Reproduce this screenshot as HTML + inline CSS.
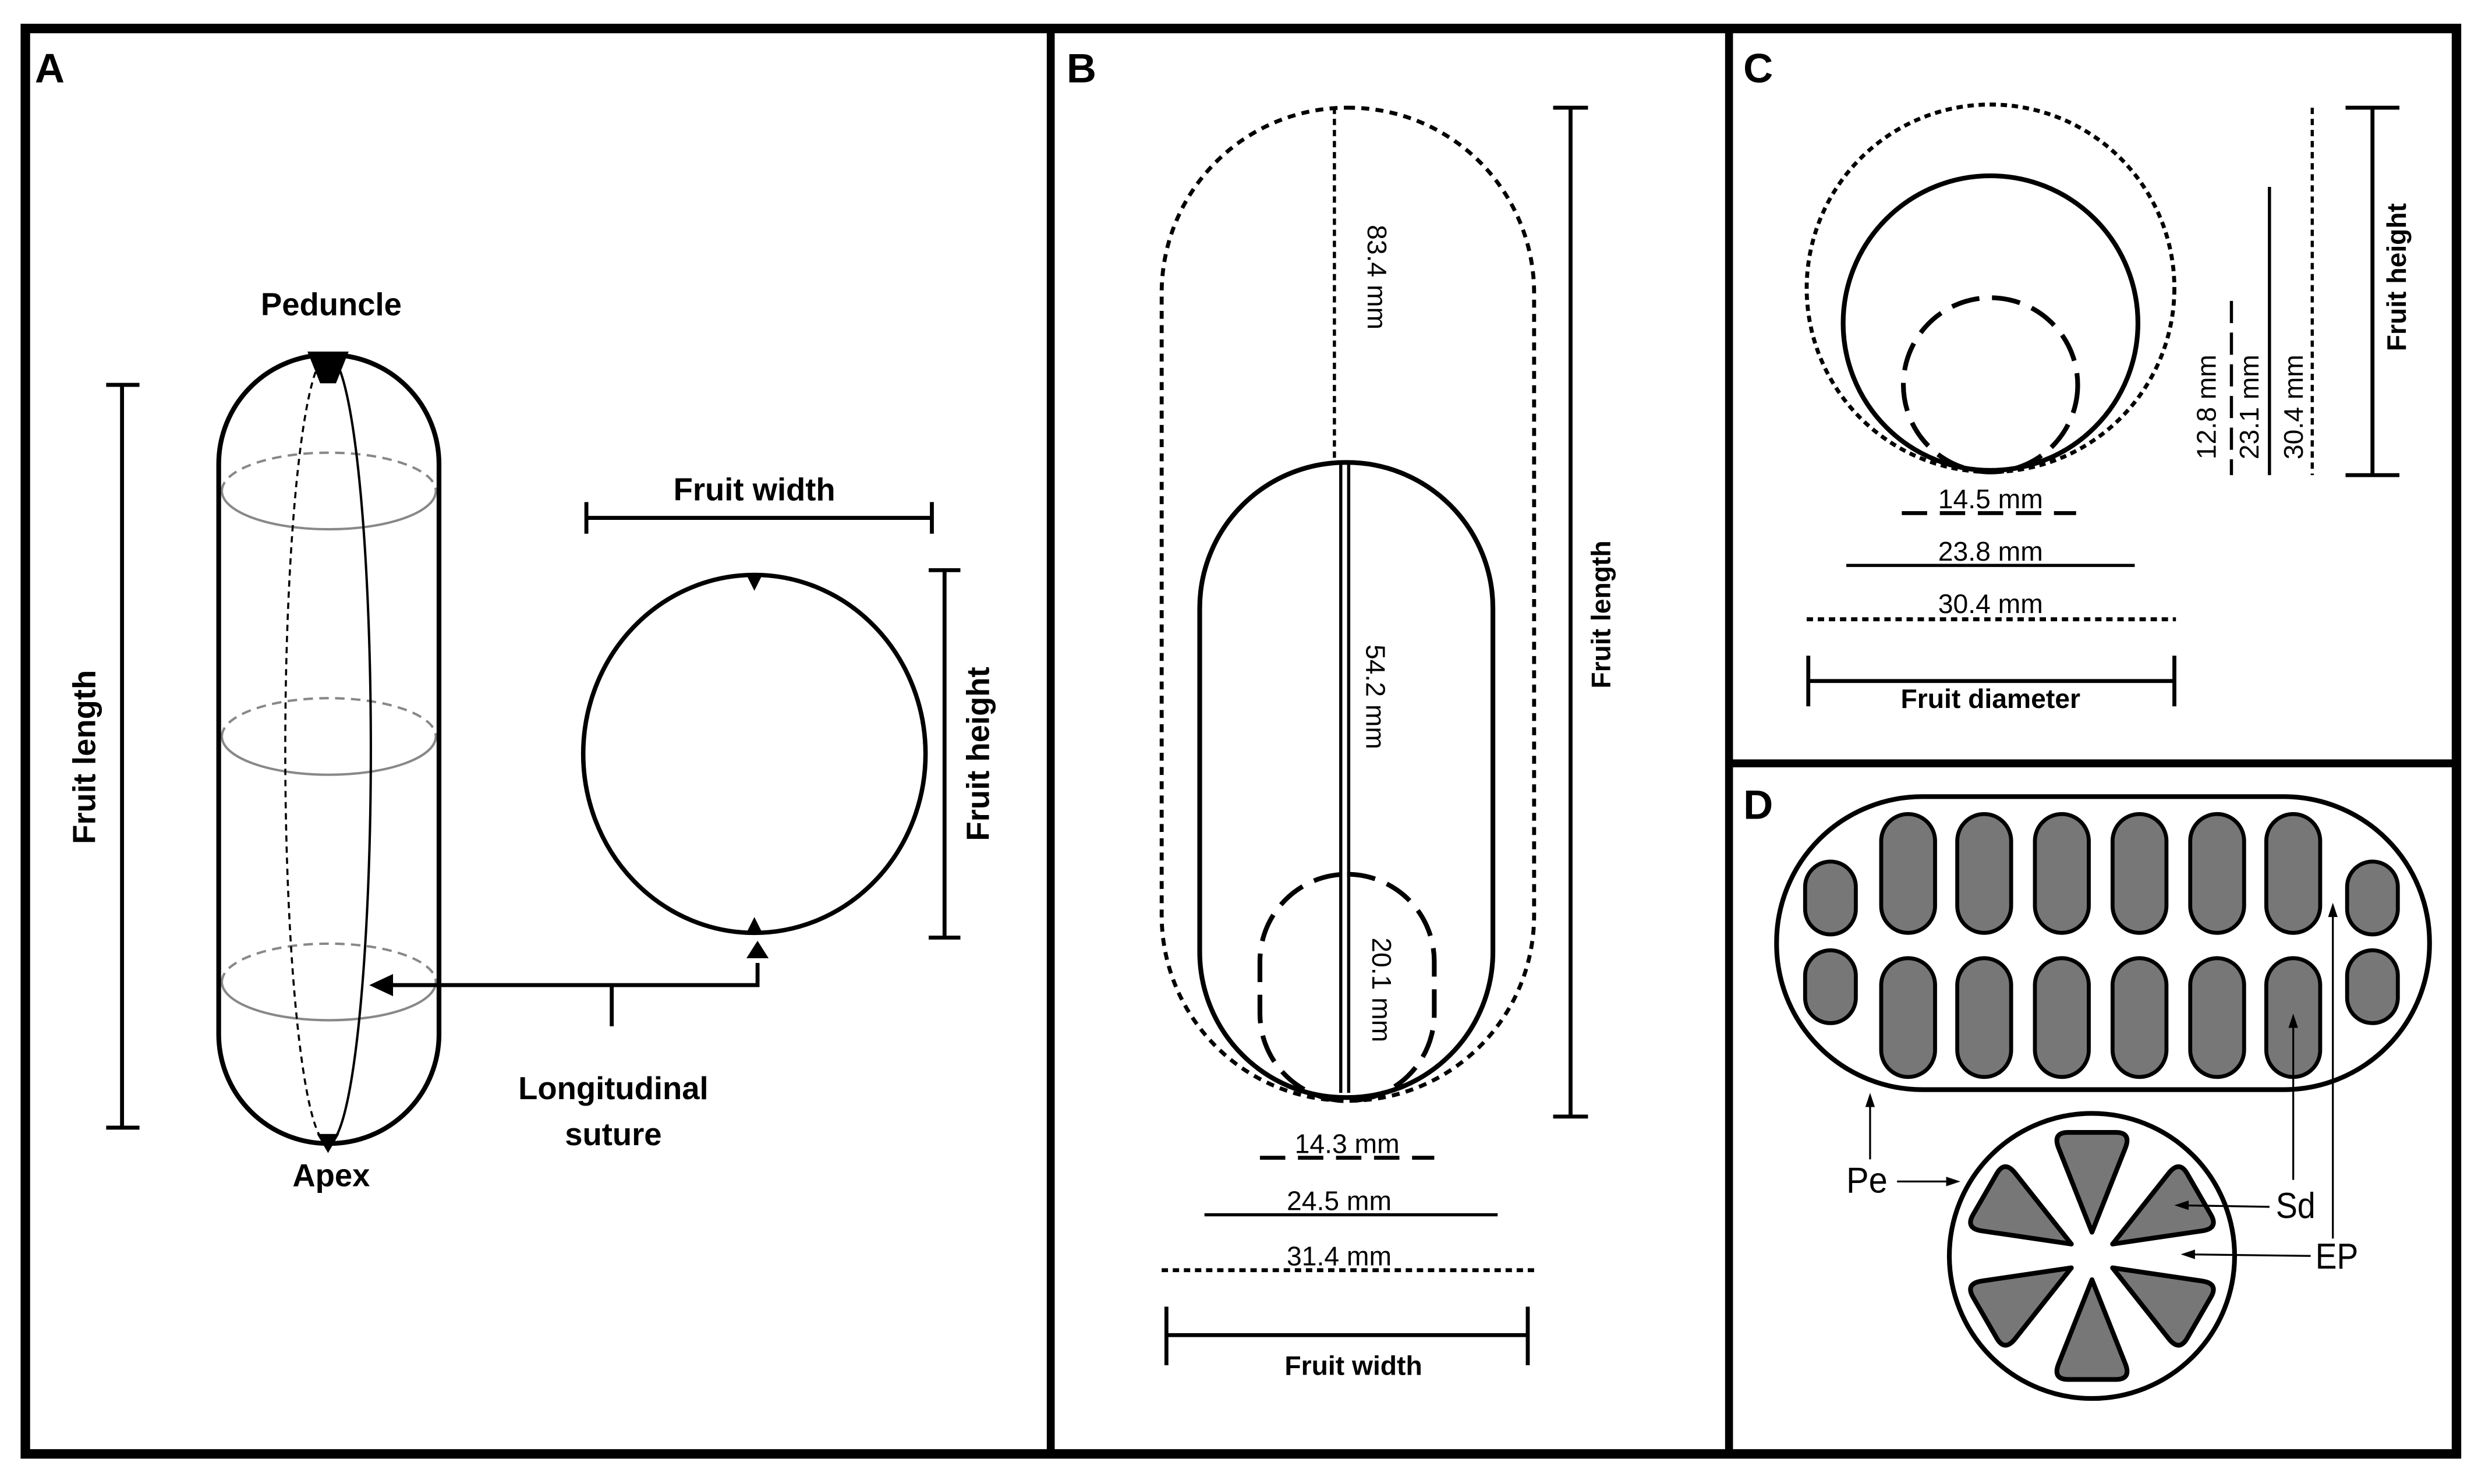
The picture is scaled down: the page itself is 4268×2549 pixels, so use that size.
<!DOCTYPE html>
<html><head><meta charset="utf-8"><style>html,body{margin:0;padding:0;background:#fff}svg{display:block}</style></head><body>
<svg width="4268" height="2549" viewBox="0 0 1568 937" preserveAspectRatio="none" xmlns="http://www.w3.org/2000/svg" font-family="'Liberation Sans', sans-serif">
<rect x="0" y="0" width="1568" height="937" fill="#fff"/>
<!-- frame -->
<rect x="16" y="18" width="1534" height="900" fill="none" stroke="#000" stroke-width="6"/>
<line x1="663" y1="18" x2="663" y2="918" stroke="#000" stroke-width="5"/>
<line x1="1091" y1="18" x2="1091" y2="918" stroke="#000" stroke-width="5"/>
<line x1="1091" y1="482" x2="1550" y2="482" stroke="#000" stroke-width="5"/>
<g font-weight="bold" font-size="26"><text x="22" y="52">A</text><text x="673" y="52">B</text><text x="1100" y="52">C</text><text x="1100" y="517">D</text></g>

<!-- Panel A -->
<g stroke="#000" fill="none">
<line x1="77" y1="243" x2="77" y2="712" stroke-width="2.5"/><line x1="67" y1="243" x2="88" y2="243" stroke-width="2.5"/><line x1="67" y1="712" x2="88" y2="712" stroke-width="2.5"/>
<g stroke="#888" stroke-width="1.5">
<path d="M140,310 A67,24 0 0 1 275,310" stroke-dasharray="6,4"/><path d="M140,310 A67,24 0 0 0 275,310"/>
<path d="M140,465 A67,24 0 0 1 275,465" stroke-dasharray="6,4"/><path d="M140,465 A67,24 0 0 0 275,465"/>
<path d="M140,620 A67,24 0 0 1 275,620" stroke-dasharray="6,4"/><path d="M140,620 A67,24 0 0 0 275,620"/>
</g>
<path d="M207,224 A27,249 0 0 0 207,722" stroke-width="1.3" stroke-dasharray="4,3"/>
<path d="M207,224 A27,249 0 0 1 207,722" stroke-width="1.5"/>
<rect x="138" y="224" width="139" height="498" rx="69" ry="69" stroke-width="3"/>
<ellipse cx="476" cy="476" rx="108" ry="113" stroke-width="2.8"/>
<line x1="370" y1="327" x2="588" y2="327" stroke-width="2.5"/><line x1="370" y1="317" x2="370" y2="337" stroke-width="2.5"/><line x1="588" y1="317" x2="588" y2="337" stroke-width="2.5"/>
<line x1="596" y1="360" x2="596" y2="592" stroke-width="2.5"/><line x1="586" y1="360" x2="606" y2="360" stroke-width="2.5"/><line x1="586" y1="592" x2="606" y2="592" stroke-width="2.5"/>
<polyline points="245,622 478,622 478,608" stroke-width="2.5"/>
<line x1="386" y1="622" x2="386" y2="648" stroke-width="2.5"/>
</g>
<g fill="#000">
<polygon points="194,222 220,222 212,242 202,242"/>
<polygon points="200,716 214,716 207,728"/>
<polygon points="471,363 481,363 476,373"/>
<polygon points="471,589 481,589 476,579"/>
<polygon points="471,605 485,605 478,594"/>
<polygon points="233,622 248,615 248,629"/>
</g>
<g font-weight="bold" font-size="20" text-anchor="middle" fill="#000">
<text x="209" y="199">Peduncle</text>
<text x="209" y="749">Apex</text>
<text x="476" y="316">Fruit width</text>
<text x="387" y="694">Longitudinal</text>
<text x="387" y="723">suture</text>
<text transform="translate(60,478) rotate(-90)">Fruit length</text>
<text transform="translate(624,476) rotate(-90)">Fruit height</text>
</g>

<!-- Panel B -->
<g stroke="#000" fill="none">
<rect x="733" y="68" width="235" height="627" rx="117" ry="117" stroke-width="2.5" stroke-dasharray="5,4"/>
<rect x="757" y="292" width="185" height="401" rx="92" ry="92" stroke-width="3"/>
<rect x="795" y="552" width="110" height="143" rx="55" ry="55" stroke-width="3" stroke-dasharray="18,8"/>
<line x1="842" y1="68" x2="842" y2="292" stroke-width="2" stroke-dasharray="4,3"/>
<line x1="846" y1="292" x2="846" y2="690" stroke-width="2"/>
<line x1="851" y1="292" x2="851" y2="690" stroke-width="2"/>
<line x1="991" y1="68" x2="991" y2="705" stroke-width="2.5"/><line x1="980" y1="68" x2="1002" y2="68" stroke-width="2.5"/><line x1="980" y1="705" x2="1002" y2="705" stroke-width="2.5"/>
<line x1="795" y1="731" x2="905" y2="731" stroke-width="2.5" stroke-dasharray="16,8"/>
<line x1="760" y1="767" x2="945" y2="767" stroke-width="2"/>
<line x1="733" y1="802" x2="970" y2="802" stroke-width="2.5" stroke-dasharray="4,3"/>
<line x1="736" y1="843" x2="964" y2="843" stroke-width="2.5"/><line x1="736" y1="825" x2="736" y2="862" stroke-width="2.5"/><line x1="964" y1="825" x2="964" y2="862" stroke-width="2.5"/>
</g>
<g font-size="17" text-anchor="middle" fill="#000">
<text transform="translate(863,175) rotate(90)">83.4 mm</text>
<text transform="translate(862,440) rotate(90)">54.2 mm</text>
<text transform="translate(866,625) rotate(90)">20.1 mm</text>
<text x="850" y="728">14.3 mm</text>
<text x="845" y="764">24.5 mm</text>
<text x="845" y="799">31.4 mm</text>
<text x="854" y="868" font-weight="bold">Fruit width</text>
<text transform="translate(1016,388) rotate(-90)" font-weight="bold">Fruit length</text>
</g>

<!-- Panel C -->
<g stroke="#000" fill="none">
<circle cx="1256" cy="182" r="116" stroke-width="2.5" stroke-dasharray="4,3"/>
<circle cx="1256" cy="204" r="93" stroke-width="3"/>
<circle cx="1256" cy="243" r="55" stroke-width="3" stroke-dasharray="18,8"/>
<line x1="1200" y1="324" x2="1310" y2="324" stroke-width="2.5" stroke-dasharray="16,8"/>
<line x1="1165" y1="357" x2="1347" y2="357" stroke-width="2"/>
<line x1="1140" y1="391" x2="1373" y2="391" stroke-width="2.5" stroke-dasharray="4,3"/>
<line x1="1141" y1="430" x2="1372" y2="430" stroke-width="2.5"/><line x1="1141" y1="414" x2="1141" y2="446" stroke-width="2.5"/><line x1="1372" y1="414" x2="1372" y2="446" stroke-width="2.5"/>
<line x1="1408" y1="190" x2="1408" y2="300" stroke-width="2" stroke-dasharray="14,6"/>
<line x1="1432" y1="118" x2="1432" y2="300" stroke-width="2"/>
<line x1="1459" y1="68" x2="1459" y2="300" stroke-width="2" stroke-dasharray="4,3"/>
<line x1="1497" y1="68" x2="1497" y2="300" stroke-width="2.5"/><line x1="1480" y1="68" x2="1514" y2="68" stroke-width="2.5"/><line x1="1480" y1="300" x2="1514" y2="300" stroke-width="2.5"/>
</g>
<g font-size="17" text-anchor="middle" fill="#000">
<text x="1256" y="321">14.5 mm</text>
<text x="1256" y="354">23.8 mm</text>
<text x="1256" y="387">30.4 mm</text>
<text x="1256" y="447" font-weight="bold">Fruit diameter</text>
<text transform="translate(1398,257) rotate(-90)">12.8 mm</text>
<text transform="translate(1425,257) rotate(-90)">23.1 mm</text>
<text transform="translate(1453,257) rotate(-90)">30.4 mm</text>
<text transform="translate(1518,175) rotate(-90)" font-weight="bold">Fruit height</text>
</g>

<!-- Panel D -->
<g stroke="#000">
<rect x="1121" y="503" width="412" height="185" rx="92" ry="92" fill="none" stroke-width="3"/>
<g fill="#777" stroke-width="2.5">
<rect x="1139" y="544" width="32" height="46" rx="16"/>
<rect x="1139" y="600" width="32" height="46" rx="16"/>
<rect x="1481" y="544" width="32" height="46" rx="16"/>
<rect x="1481" y="600" width="32" height="46" rx="16"/>
<rect x="1187" y="514" width="34" height="75" rx="17"/>
<rect x="1235" y="514" width="34" height="75" rx="17"/>
<rect x="1284" y="514" width="34" height="75" rx="17"/>
<rect x="1333" y="514" width="34" height="75" rx="17"/>
<rect x="1382" y="514" width="34" height="75" rx="17"/>
<rect x="1430" y="514" width="34" height="75" rx="17"/>
<rect x="1187" y="605" width="34" height="75" rx="17"/>
<rect x="1235" y="605" width="34" height="75" rx="17"/>
<rect x="1284" y="605" width="34" height="75" rx="17"/>
<rect x="1333" y="605" width="34" height="75" rx="17"/>
<rect x="1382" y="605" width="34" height="75" rx="17"/>
<rect x="1430" y="605" width="34" height="75" rx="17"/>
</g>
<circle cx="1320" cy="793" r="90" fill="none" stroke-width="3"/>
<g transform="translate(1320 793)" fill="#777" stroke-width="3" stroke-linejoin="round">
<path id="tri" d="M0,-15 L-21,-68 Q-25,-78 -15,-78 L15,-78 Q25,-78 21,-68 Z"/>
<use href="#tri" transform="rotate(60)"/>
<use href="#tri" transform="rotate(120)"/>
<use href="#tri" transform="rotate(180)"/>
<use href="#tri" transform="rotate(240)"/>
<use href="#tri" transform="rotate(300)"/>
</g>
<g stroke-width="1.2" fill="none">
<line x1="1180" y1="732" x2="1180" y2="692"/>
<line x1="1197" y1="746" x2="1235" y2="746"/>
<line x1="1432" y1="762" x2="1374" y2="761"/>
<line x1="1447" y1="745" x2="1447" y2="642"/>
<line x1="1458" y1="793" x2="1378" y2="792"/>
<line x1="1472" y1="782" x2="1472" y2="572"/>
</g>
</g>
<g fill="#000">
<polygon points="1180,690 1177,699 1183,699"/>
<polygon points="1237,746 1228,743 1228,749"/>
<polygon points="1372,761 1381,758 1381,764"/>
<polygon points="1447,640 1444,649 1450,649"/>
<polygon points="1376,792 1385,789 1385,795"/>
<polygon points="1472,570 1469,579 1475,579"/>
</g>
<g font-size="23" fill="#000">
<text x="1165" y="753" textLength="26" lengthAdjust="spacingAndGlyphs">Pe</text>
<text x="1436" y="769" textLength="25" lengthAdjust="spacingAndGlyphs">Sd</text>
<text x="1461" y="801" textLength="27" lengthAdjust="spacingAndGlyphs">EP</text>
</g>
</svg>
</body></html>
